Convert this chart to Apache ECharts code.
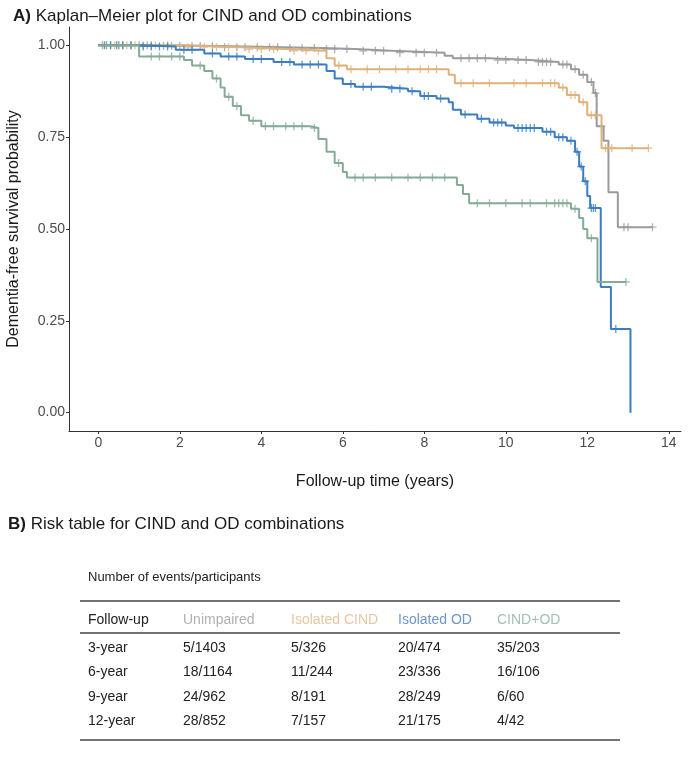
<!DOCTYPE html>
<html>
<head>
<meta charset="utf-8">
<script src="https://cdn.jsdelivr.net/npm/echarts@6.0.0/dist/echarts.min.js"></script>
<style>
  html, body { margin: 0; padding: 0; background: #fff; }
  #main { width: 698px; height: 759px; }
</style>
</head>
<body>
<div id="main"></div>
<script>
// survival steps, [time in years, survival probability]
const unimpairedSteps = [[0,1],[1.5,0.998],[3.0,0.995],[4.5,0.993],[5.5,0.99],[6.3,0.985],[7.2,0.98],[8.5,0.972],[8.7,0.965],[9.6,0.96],[10.6,0.955],[11.3,0.948],[11.6,0.935],[11.8,0.92],[12.0,0.9],[12.15,0.87],[12.23,0.78],[12.4,0.74],[12.52,0.6],[12.75,0.505],[13.6,0.505]]
const cindSteps = [[0,1],[2.0,0.995],[3.5,0.99],[4.6,0.985],[5.6,0.965],[5.8,0.945],[6.1,0.935],[8.6,0.92],[8.75,0.897],[11.3,0.885],[11.5,0.865],[11.8,0.845],[12.0,0.81],[12.35,0.72],[13.5,0.72]]
const odSteps = [[0,1],[1.0,0.997],[1.9,0.988],[2.6,0.978],[3.0,0.97],[3.6,0.963],[4.3,0.955],[4.8,0.948],[5.6,0.93],[5.8,0.91],[6.0,0.895],[6.3,0.887],[7.0,0.882],[7.6,0.875],[7.9,0.862],[8.3,0.855],[8.6,0.845],[8.7,0.825],[8.9,0.812],[9.3,0.8],[9.6,0.79],[10.0,0.782],[10.2,0.775],[10.9,0.765],[11.2,0.75],[11.5,0.74],[11.7,0.71],[11.8,0.67],[11.9,0.63],[12.0,0.59],[12.07,0.557],[12.33,0.342],[12.58,0.228],[13.06,0.0]]
const bothSteps = [[0,1],[1.0,0.97],[2.1,0.96],[2.3,0.945],[2.6,0.93],[2.8,0.91],[3.0,0.885],[3.1,0.86],[3.3,0.835],[3.5,0.81],[3.7,0.795],[4.0,0.78],[5.2,0.775],[5.4,0.745],[5.6,0.71],[5.8,0.68],[6.0,0.655],[6.1,0.64],[8.8,0.62],[8.95,0.595],[9.1,0.57],[11.6,0.555],[11.8,0.53],[11.9,0.5],[12.0,0.475],[12.25,0.356],[12.95,0.356]]

// censoring times
const unimpairedCensor = [0.1,0.3,0.5,0.6,0.8,1.0,1.2,1.3,1.6,1.8,2.0,2.3,2.5,2.8,3.1,3.4,3.6,3.9,4.2,4.4,4.7,5.0,5.3,5.6,5.8,6.1,6.5,6.8,7.0,7.4,7.8,8.0,8.3,8.9,9.1,9.3,9.5,9.8,10.0,10.3,10.5,10.8,10.9,11.0,11.1,11.4,11.5,11.7,11.9,12.1,12.2,12.35,12.9,13.0,13.6]
const cindCensor = [0.2,0.4,0.7,0.9,1.1,1.4,1.7,2.2,2.6,2.9,3.2,3.7,4.0,4.3,4.8,5.1,5.4,5.9,6.2,6.6,6.9,7.3,7.6,7.9,8.1,8.3,8.9,9.2,9.6,10.2,10.5,10.9,11.1,11.2,11.4,11.6,11.7,11.9,12.1,12.2,12.45,12.5,12.6,13.1,13.5]
const odCensor = [0.15,0.3,0.45,0.6,0.8,1.1,1.3,1.5,1.7,2.1,2.3,2.8,3.2,3.4,3.8,4.0,4.5,4.7,5.0,5.2,5.4,6.2,6.5,6.7,7.2,7.4,7.7,8.0,8.1,8.4,9.0,9.4,9.7,9.8,9.9,10.3,10.4,10.5,10.6,10.7,11.0,11.1,11.3,11.4,11.6,11.75,11.85,11.95,12.1,12.15,12.2,12.7]
const bothCensor = [0.2,0.5,0.8,1.3,1.5,1.8,2.0,2.5,2.9,3.2,3.4,3.8,4.1,4.3,4.6,4.8,5.0,5.3,5.9,6.3,6.5,6.8,7.2,7.6,7.9,8.2,8.5,9.3,9.6,10.0,10.4,10.6,11.0,11.2,11.3,11.4,11.5,11.7,12.1,12.95]

const groups = ['Unimpaired', 'Isolated CIND', 'Isolated OD', 'CIND+OD']
const colors = ['#9b9b9b', '#deb27c', '#3b7dc0', '#84ab97']
const headColors = ['#b0b0b0', '#e6c6a0', '#6e96cb', '#a3c1b2']

const xTicks = [0, 2, 4, 6, 8, 10, 12, 14]
const yTicks = [0, 0.25, 0.5, 0.75, 1]

// risk table
const tableTimes = ['3-year', '6-year', '9-year', '12-year']
const unimpairedRisk = ['5/1403', '18/1164', '24/962', '28/852']
const cindRisk = ['5/326', '11/244', '8/191', '7/157']
const odRisk = ['20/474', '23/336', '28/249', '21/175']
const bothRisk = ['35/203', '16/106', '6/60', '4/42']

const allSteps = [unimpairedSteps, cindSteps, odSteps, bothSteps]
const allCensor = [unimpairedCensor, cindCensor, odCensor, bothCensor]
const allRisk = [unimpairedRisk, cindRisk, odRisk, bothRisk]

function survAt(steps, t) {
  let s = steps[0][1]
  for (const p of steps) { if (p[0] <= t) s = p[1] }
  return s
}

const FONT = 'Arial, "Liberation Sans", sans-serif'
const main = document.getElementById('main')
const myChart = echarts.init(main)

const series = []
groups.forEach((g, i) => {
  series.push({
    name: g,
    type: 'line',
    step: 'end',
    showSymbol: false,
    data: allSteps[i],
    lineStyle: { color: colors[i], width: 2 },
    z: 2 + i
  })
  series.push({
    name: g + ' censor',
    type: 'scatter',
    symbol: 'path://M5,0L5,10M0,5L10,5',
    symbolSize: 8,
    data: allCensor[i].map(t => [t, survAt(allSteps[i], t)]),
    itemStyle: { color: 'none', borderColor: colors[i], borderWidth: 1.3 },
    z: 2 + i
  })
})

// table graphics
const colX = [88, 183, 291, 398, 497]
const headY = 620
const rowY = [648, 672, 697, 721]
const graphic = [
  { type: 'text', x: 8, y: 524, style: { text: '{b|B)} Risk table for CIND and OD combinations', font: '17px ' + FONT, fill: '#1a1a1a', verticalAlign: 'middle', rich: { b: { fontWeight: 'bold', fontSize: 17, fontFamily: FONT } } } },
  { type: 'text', x: 88, y: 577, style: { text: 'Number of events/participants', font: '13px ' + FONT, fill: '#222', verticalAlign: 'middle' } },
  { type: 'line', shape: { x1: 80, y1: 601, x2: 620, y2: 601 }, style: { stroke: '#444', lineWidth: 1.5 } },
  { type: 'line', shape: { x1: 80, y1: 633, x2: 620, y2: 633 }, style: { stroke: '#444', lineWidth: 1.5 } },
  { type: 'line', shape: { x1: 80, y1: 740, x2: 620, y2: 740 }, style: { stroke: '#444', lineWidth: 1.5 } },
  { type: 'text', x: colX[0], y: headY, style: { text: 'Follow-up', font: '14px ' + FONT, fill: '#222', verticalAlign: 'middle' } }
]
groups.forEach((g, i) => {
  graphic.push({ type: 'text', x: colX[i + 1], y: headY, style: { text: g, font: '14px ' + FONT, fill: headColors[i], verticalAlign: 'middle' } })
})
tableTimes.forEach((t, r) => {
  graphic.push({ type: 'text', x: colX[0], y: rowY[r], style: { text: t, font: '14px ' + FONT, fill: '#222', verticalAlign: 'middle' } })
  allRisk.forEach((col, i) => {
    graphic.push({ type: 'text', x: colX[i + 1], y: rowY[r], style: { text: col[r], font: '14px ' + FONT, fill: '#222', verticalAlign: 'middle' } })
  })
})

myChart.setOption({
  animation: false,
  backgroundColor: '#fff',
  title: {
    text: '{b|A)} Kaplan–Meier plot for CIND and OD combinations',
    left: 8, top: 3,
    textStyle: { fontSize: 17, fontWeight: 'normal', fontFamily: FONT, color: '#1a1a1a',
      rich: { b: { fontWeight: 'bold', fontSize: 17, fontFamily: FONT, color: '#1a1a1a' } } }
  },
  grid: { left: 69, right: 17, top: 27, bottom: 328, outerBoundsMode: 'none', containLabel: false },
  xAxis: {
    type: 'value',
    min: -0.72, max: 14.3,
    name: 'Follow-up time (years)',
    nameLocation: 'middle',
    nameGap: 43,
    nameTextStyle: { fontSize: 16, color: '#1a1a1a', fontFamily: FONT },
    axisLine: { show: true, onZero: false, lineStyle: { color: '#333', width: 1 } },
    axisTick: { show: true, length: 3, customValues: xTicks, lineStyle: { color: '#333' } },
    axisLabel: { customValues: xTicks, fontSize: 14, color: '#4d4d4d', margin: 5, fontFamily: FONT },
    splitLine: { show: false }
  },
  yAxis: {
    type: 'value',
    min: -0.05, max: 1.05,
    name: 'Dementia-free survival probability',
    nameLocation: 'middle',
    nameGap: 47,
    nameTextStyle: { fontSize: 16, color: '#1a1a1a', fontFamily: FONT },
    axisLine: { show: true, onZero: false, lineStyle: { color: '#333', width: 1 } },
    axisTick: { show: true, length: 3, customValues: yTicks, lineStyle: { color: '#333' } },
    axisLabel: { customValues: yTicks, fontSize: 14, color: '#4d4d4d', margin: 4, fontFamily: FONT,
      formatter: v => v.toFixed(2) },
    splitLine: { show: false }
  },
  graphic: graphic,
  series: series
})
</script>
</body>
</html>
